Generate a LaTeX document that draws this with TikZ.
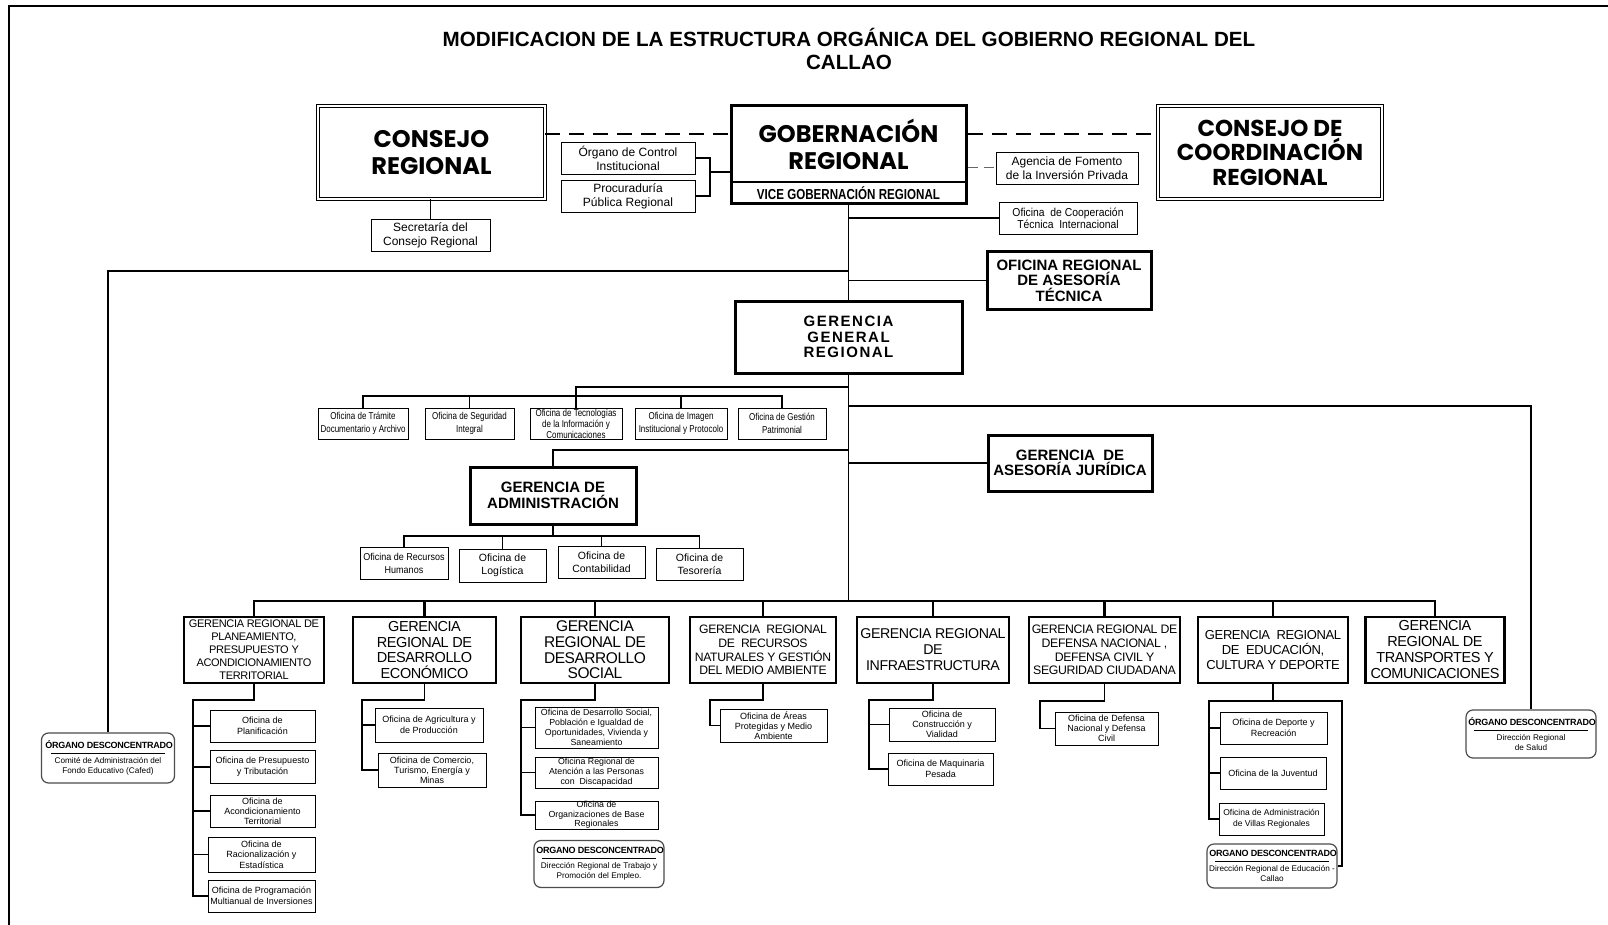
\documentclass[tikz,border=0pt]{standalone}
\usepackage{fontspec}
\setmainfont{Liberation Sans}
\newfontfamily\heavyfont{Poppins}
\newfontfamily\narrowfont{Liberation Sans}[FakeStretch=0.8]
\newfontfamily\semifont{Liberation Sans}[FakeStretch=0.9]
\newfontfamily\tightfont{Liberation Sans}[LetterSpace=-3]
\newfontfamily\spacedfont{Liberation Sans}[LetterSpace=10]
\usetikzlibrary{positioning}
\newcommand{\fsz}[2]{\fontsize{#1}{#2}\selectfont}
\newcommand{\descrule}{\rule[2pt]{114pt}{0.7pt}}
\tikzset{
	sz/.style 2 args={minimum width=#1, minimum height=#2},
	dbox/.style={draw, double, double distance=2.2pt, line width=0.8pt, align=center, inner sep=0pt, font=\heavyfont\bfseries\fsz{24}{27}},
	thickbox/.style={draw, line width=3pt, align=center, inner sep=0pt, font=\bfseries\fsz{15}{15.5}},
	ger/.style={draw, line width=2.4pt, align=center, inner sep=0pt},
	ofi/.style={draw, line width=0.9pt, align=center, inner sep=0pt},
	sub/.style={ofi, font=\fsz{9}{11}},
	desc/.style={draw=black!70, line width=1.2pt, rounded corners=7pt, align=center, inner sep=0pt, font=\fsz{8.2}{10}},
	conn/.style={line width=1.2pt},
	busline/.style={line width=2.6pt},
	dashline/.style={line width=1.8pt, dash pattern=on 15pt off 9pt},
}

\begin{document}
\begin{tikzpicture}[x=1pt, y=-1pt]
	\useasboundingbox (0,0) rectangle (1608,925);
	\draw[line width=2.5pt] (9,925) -- (9,6) -- (1608,6);
	\node[font=\bfseries\fsz{20.6}{23}, align=center] (title) at (849,48.5) {MODIFICACION DE LA ESTRUCTURA ORGÁNICA DEL GOBIERNO REGIONAL DEL\\CALLAO};

	% organos de gobierno
	\node[dbox, sz={227}{93}] (consejo) at (431.5,152.5) {CONSEJO\\REGIONAL};
	\node[ofi, sz={119}{32}, font=\fsz{12}{14}] (secre) at (430.5,235) {Secretaría del\\Consejo Regional};
	\node[ofi, sz={134}{32}, font=\fsz{12}{14}] (ocontrol) at (628,158) {Órgano de Control\\Institucional};
	\node[ofi, sz={134}{32}, font=\fsz{12}{14}] (procu) at (628,196) {Procuraduría\\Pública Regional};
	\node[thickbox, sz={235}{98}] (gob) at (848.5,155) {};
	\node[font=\heavyfont\bfseries\fsz{24}{27}, align=center] (gobtxt) at (848.5,144) {GOBERNACIÓN\\REGIONAL};
	\node[font=\narrowfont\bfseries\fsz{14.5}{16}] (vice) at (848.5,193.5) {VICE GOBERNACIÓN REGIONAL};
	\node[dbox, sz={224}{93}, font=\heavyfont\bfseries\fsz{23}{24.5}] (ccr) at (1270,152.5) {CONSEJO DE\\COORDINACIÓN\\REGIONAL};
	\node[ofi, sz={142}{32}, font=\fsz{12}{13.5}] (agencia) at (1067,168) {Agencia de Fomento\\de la Inversión Privada};
	\node[ofi, sz={138}{32}, font=\semifont\fsz{11.5}{12}] (coop) at (1068,218) {Oficina\ \ de Cooperación\\Técnica\ \ Internacional};
	\node[thickbox, sz={164}{57}] (asetec) at (1069,280.5) {OFICINA REGIONAL\\DE ASESORÍA\\TÉCNICA};
	\node[thickbox, sz={227}{72}, font=\spacedfont\bfseries\fsz{15}{15.5}] (ggr) at (848.5,337) {GERENCIA\\GENERAL\\REGIONAL};

	% oficinas de apoyo
	\node[ofi, sz={90}{31}, font=\narrowfont\fsz{10}{12.3}] (otramite) at (363,423.5) {Oficina de Trámite\\Documentario y Archivo};
	\node[ofi, sz={89}{31}, font=\narrowfont\fsz{10}{12.3}] (oseg) at (469.5,423.5) {Oficina de Seguridad\\Integral};
	\node[ofi, sz={92}{31}, font=\narrowfont\fsz{10}{11}] (otec) at (576,423.5) {Oficina de Tecnologías\\de la Información y\\Comunicaciones};
	\node[ofi, sz={92}{31}, font=\narrowfont\fsz{10}{12.3}] (oimg) at (681,423.5) {Oficina de Imagen\\Institucional y Protocolo};
	\node[ofi, sz={88}{31}, font=\narrowfont\fsz{10}{12.3}] (opat) at (782,423.5) {Oficina de Gestión\\Patrimonial};
	\node[thickbox, sz={166}{57}] (gadm) at (553,495.5) {GERENCIA DE\\ADMINISTRACIÓN};
	\node[ofi, sz={88}{32}, font=\semifont\fsz{10}{13}] (orrhh) at (404,563) {Oficina de Recursos\\Humanos};
	\node[ofi, sz={87}{33}, font=\fsz{10.5}{13.5}] (olog) at (502.5,565.5) {Oficina de\\Logística};
	\node[ofi, sz={87}{32}, font=\fsz{10.5}{13.5}] (ocont) at (601.5,562) {Oficina de\\Contabilidad};
	\node[ofi, sz={87}{32}, font=\fsz{10.5}{13.5}] (otes) at (699.5,564) {Oficina de\\Tesorería};
	\node[thickbox, sz={164}{56}] (ajur) at (1070,463) {GERENCIA\ \ DE\\ASESORÍA JURÍDICA};

	% gerencias regionales
	\node[ger, sz={140}{66}, font=\tightfont\fsz{11}{13}] (gplan) at (254,650) {GERENCIA REGIONAL DE\\PLANEAMIENTO,\\PRESUPUESTO Y\\ACONDICIONAMIENTO\\TERRITORIAL};
	\node[ger, sz={143}{66}, font=\tightfont\fsz{14.5}{15.8}] (gdeco) at (424.5,650) {GERENCIA\\REGIONAL DE\\DESARROLLO\\ECONÓMICO};
	\node[ger, sz={148}{66}, font=\tightfont\fsz{15.5}{15.7}] (gdsoc) at (595,650) {GERENCIA\\REGIONAL DE\\DESARROLLO\\SOCIAL};
	\node[ger, sz={146}{66}, font=\tightfont\fsz{12.2}{13.8}] (grnat) at (763,650) {GERENCIA\ \ REGIONAL\\DE\ \ RECURSOS\\NATURALES Y GESTIÓN\\DEL MEDIO AMBIENTE};
	\node[ger, sz={152}{66}, font=\tightfont\fsz{14.2}{16}] (ginfra) at (933,650) {GERENCIA REGIONAL\\DE\\INFRAESTRUCTURA};
	\node[ger, sz={151}{66}, font=\tightfont\fsz{12.3}{13.7}] (gdef) at (1104.5,650) {GERENCIA REGIONAL DE\\DEFENSA NACIONAL ,\\DEFENSA CIVIL Y\\SEGURIDAD CIUDADANA};
	\node[ger, sz={150}{66}, font=\tightfont\fsz{13}{14.8}] (gedu) at (1273,650) {GERENCIA\ \ REGIONAL\\DE\ \ EDUCACIÓN,\\CULTURA Y DEPORTE};
	\node[ger, sz={139}{66}, font=\tightfont\fsz{14.5}{16}] (gtra) at (1435,650) {GERENCIA\\REGIONAL DE\\TRANSPORTES Y\\COMUNICACIONES};

	% oficinas de las gerencias
	\node[sub, sz={105}{32}] (pplan) at (262.5,726) {Oficina de\\Planificación};
	\node[sub, sz={105}{33}] (ppre) at (262.5,767) {Oficina de Presupuesto\\y Tributación};
	\node[sub, sz={105}{32}, font=\fsz{9}{10}] (pacon) at (262.5,811) {Oficina de\\Acondicionamiento\\Territorial};
	\node[sub, sz={107}{35}, font=\fsz{9}{10.5}] (prac) at (261.5,854.5) {Oficina de\\Racionalización y\\Estadística};
	\node[sub, sz={107}{32}] (pprog) at (261.5,896) {Oficina de Programación\\Multianual de Inversiones};
	\node[sub, sz={108}{34}] (eagr) at (429,725) {Oficina de Agricultura y\\de Producción};
	\node[sub, sz={108}{34}, font=\fsz{9}{10}] (ecom) at (432,770) {Oficina de Comercio,\\Turismo, Energía y\\Minas};
	\node[sub, sz={123}{41}, font=\fsz{8.8}{10}] (sdes) at (596.5,727.5) {Oficina de Desarrollo Social,\\Población e Igualdad de\\Oportunidades, Vivienda y\\Saneamiento};
	\node[sub, sz={123}{31}, font=\fsz{8.8}{10}] (sper) at (596.5,772.5) {Oficina Regional de\\Atención a las Personas\\con\ \ Discapacidad};
	\node[sub, sz={123}{28}, font=\fsz{8.8}{9.5}] (sorg) at (596.5,815) {Oficina de\\Organizaciones de Base\\Regionales};
	\node[sub, sz={107}{33}, font=\fsz{9}{10}] (nare) at (773.5,725.5) {Oficina de Áreas\\Protegidas y Medio\\Ambiente};
	\node[sub, sz={106}{33}, font=\fsz{9}{10}] (icon) at (942,724.5) {Oficina de\\Construcción y\\Vialidad};
	\node[sub, sz={105}{32}] (imaq) at (940.5,769) {Oficina de Maquinaria\\Pesada};
	\node[sub, sz={103}{33}, font=\fsz{9}{10}] (ddef) at (1106.5,728.5) {Oficina de Defensa\\Nacional y Defensa\\Civil};
	\node[sub, sz={107}{32}] (cdep) at (1273.5,728) {Oficina de Deporte y\\Recreación};
	\node[sub, sz={106}{32}] (cjuv) at (1273,773) {Oficina de la Juventud};
	\node[sub, sz={105}{32}, font=\fsz{8.5}{11}] (cvil) at (1271.5,819) {Oficina de Administración\\de Villas Regionales};

	% organos desconcentrados
	\node[desc, sz={133}{50}] (cafed) at (108,758) {{\tightfont\bfseries\fsz{9}{10} ÓRGANO DESCONCENTRADO}\\[-3pt]\descrule\\[-2pt]Comité de Administración del\\Fondo Educativo (Cafed)};
	\node[desc, sz={130}{47}] (sod) at (599,864) {{\tightfont\bfseries\fsz{9}{10} ORGANO DESCONCENTRADO}\\[-3pt]\descrule\\[-2pt]Dirección Regional de Trabajo y\\Promoción del Empleo.};
	\node[desc, sz={130}{44}] (cod) at (1272,866) {{\tightfont\bfseries\fsz{9}{10} ORGANO DESCONCENTRADO}\\[-3pt]\descrule\\[-2pt]Dirección Regional de Educación -\\Callao};
	\node[desc, sz={130}{48}] (salud) at (1531,734) {{\tightfont\bfseries\fsz{9}{10} ÓRGANO DESCONCENTRADO}\\[-3pt]\descrule\\[-2pt]Dirección Regional\\de Salud};

	% conectores
	\coordinate (vtop) at (0,182);
	\draw[conn] (gob.west |- vtop) -- (gob.east |- vtop);
	\draw[conn] (secre.north |- consejo.south) -- (secre.north);
	\coordinate (dl) at ([yshift=18.5pt]consejo.east);
	\draw[dashline] (dl) -- (dl -| gob.west);
	\draw[dashline] (dl -| gob.east) -- (dl -| ccr.west);
	\coordinate (brk) at (710,172);
	\draw[conn] (ocontrol.east) -| (brk |- procu.east) -- (procu.east);
	\draw[conn] (brk) -- (brk -| gob.west);
	\draw[line width=1pt, black!60, dash pattern=on 10pt off 6pt] (gob.east |- agencia.west) -- (agencia.west);
	\draw[conn] (gob.south) -- (ggr.north);
	\draw[conn] (gob.south |- coop.west) -- (coop.west);
	\coordinate (lft) at (108,271);
	\draw[conn] (gob.south |- lft) -- (lft) -- (cafed.north);
	\draw[conn] (gob.south |- asetec.west) -- (asetec.west);

	\coordinate (bus) at (0,601);
	\draw[conn] (ggr.south) -- (ggr.south |- bus);
	\coordinate (sj) at (0,387);
	\coordinate (sb) at (0,396);
	\draw[conn] (ggr.south |- sj) -| (otec.north);
	\draw[conn] (otramite.north) |- (sb -| opat.north) -- (opat.north);
	\draw[conn] (oseg.north) -- (oseg.north |- sb);
	\draw[conn] (oimg.north) -- (oimg.north |- sb);
	\coordinate (rt) at (1531,406);
	\draw[conn] (ggr.south |- rt) -- (rt) -- (salud.north);
	\coordinate (gj) at (0,450);
	\draw[conn] (ggr.south |- gj) -| (gadm.north);
	\draw[conn] (ggr.south |- ajur.west) -- (ajur.west);
	\coordinate (ab) at (0,536);
	\draw[conn] (gadm.south) -- (gadm.south |- ab);
	\draw[conn] (orrhh.north) |- (ab -| otes.north) -- (otes.north);
	\draw[conn] (olog.north) -- (olog.north |- ab);
	\draw[conn] (ocont.north) -- (ocont.north |- ab);

	\draw[busline] (gplan.north) |- (bus -| gtra.north) -- (gtra.north);
	\foreach \g in {gdeco,gdsoc,grnat,ginfra,gdef,gedu}
		\draw[busline] (\g.north) -- (\g.north |- bus);

	\coordinate (sp1) at (193,700);
	\draw[conn] (gplan.south) |- (sp1) -- (sp1 |- pprog.west) -- (pprog.west);
	\foreach \b in {pplan,ppre,pacon,prac}
		\draw[conn] (sp1 |- \b.west) -- (\b.west);
	\coordinate (sp2) at (362,700);
	\draw[conn] (gdeco.south) |- (sp2) -- (sp2 |- ecom.west) -- (ecom.west);
	\draw[conn] (sp2 |- eagr.west) -- (eagr.west);
	\coordinate (sp3) at (521,700);
	\draw[conn] (gdsoc.south) |- (sp3) -- (sp3 |- sorg.west) -- (sorg.west);
	\foreach \b in {sdes,sper}
		\draw[conn] (sp3 |- \b.west) -- (\b.west);
	\coordinate (sp4) at (710,700);
	\draw[conn] (grnat.south) |- (sp4) -- (sp4 |- nare.west) -- (nare.west);
	\coordinate (sp5) at (869,700);
	\draw[conn] (ginfra.south) |- (sp5) -- (sp5 |- imaq.west) -- (imaq.west);
	\draw[conn] (sp5 |- icon.west) -- (icon.west);
	\coordinate (sp6) at (1040,701);
	\draw[conn] (gdef.south) |- (sp6) -- (sp6 |- ddef.west) -- (ddef.west);
	\coordinate (sp7) at (1209,701);
	\coordinate (sp7r) at (1342,701);
	\draw[conn] (gedu.south) |- (sp7) -- (sp7 |- cvil.west) -- (cvil.west);
	\draw[conn] (gedu.south |- sp7) -- (sp7r) -- (sp7r |- cod.east) -- (cod.east);
	\foreach \b in {cdep,cjuv}
		\draw[conn] (sp7 |- \b.west) -- (\b.west);
\end{tikzpicture}
\end{document}
